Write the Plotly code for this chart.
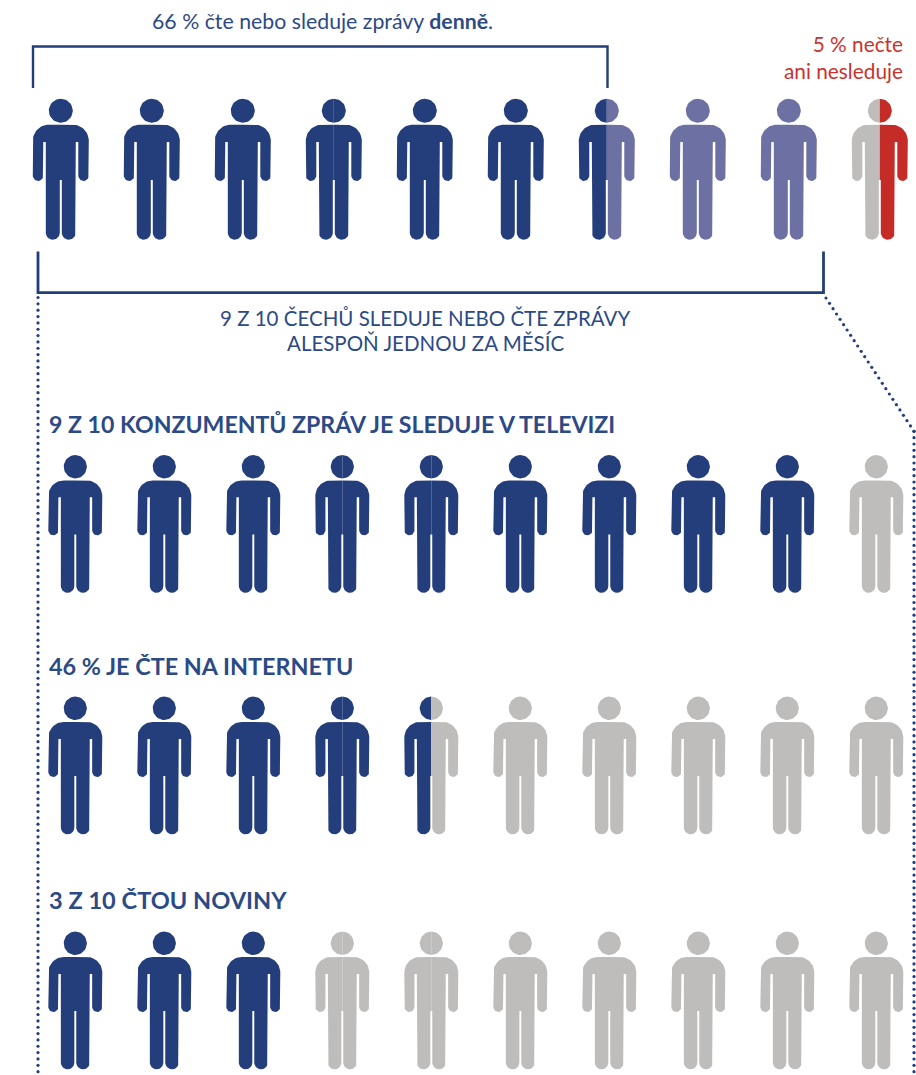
import numpy as np
import plotly.graph_objects as go

# ---------- data (people out of ten) ----------
PEOPLE = 10
DAILY = 6.5
MONTHLY = 9
NOT_AT_ALL = 0.5
TV = 9
INTERNET = 4.5
NEWSPAPERS = 3

TITLE_DAILY = "66 % čte nebo sleduje zprávy <b>denně</b>."
TITLE_NONE = "5 % nečte<br>ani nesleduje"
TITLE_MONTHLY = ["9 Z 10 ČECHŮ SLEDUJE NEBO ČTE ZPRÁVY", "ALESPOŇ JEDNOU ZA MĚSÍC"]
HEAD_TV = "9 Z 10 KONZUMENTŮ ZPRÁV JE SLEDUJE V TELEVIZI"
HEAD_NET = "46 % JE ČTE NA INTERNETU"
HEAD_PAPER = "3 Z 10 ČTOU NOVINY"

# ---------- style ----------
DARK = "#233E7A"
MID = "#6C70A2"
GREY = "#BEBDBB"
RED = "#C52B27"
TEXT_BLUE = "#2C4A85"
TEXT_RED = "#C9332E"
FONT = "Lato"


def arc(cx, cy, r, a0, a1, n=16):
    t = np.radians(np.linspace(a0, a1, n))
    return list(zip(cx + r * np.cos(t), cy + r * np.sin(t)))


def right_body():
    p = [(0, 26), (12, 26)]
    p += arc(12, 42, 16, -90, 0)
    p += [(28, 77)]
    p += arc(22.75, 77, 5.25, 0, 180)
    p += [(17.5, 43.3), (15, 43.3), (15, 134)]
    p += arc(8, 134, 7, 0, 180)
    p += [(1, 81.3), (0, 81.3)]
    return p


BODY_R = right_body()
HEAD_R = arc(0, 12, 12, -90, 90, 24)


def polys(side):
    if side == "R":
        return [BODY_R, HEAD_R]
    if side == "L":
        return [[(-x, y) for x, y in BODY_R], [(-x, y) for x, y in HEAD_R]]
    return [BODY_R + [(-x, y) for x, y in BODY_R[::-1]],
            HEAD_R + [(-x, y) for x, y in HEAD_R[::-1]]]


def place(side, cx, top, sx, sy):
    xs, ys = [], []
    for poly in polys(side):
        xs += [cx + sx * x for x, _ in poly] + [None]
        ys += [top + sy * y for _, y in poly] + [None]
    return xs, ys


fig = go.Figure()


def add_fill(xs, ys, color):
    fig.add_trace(go.Scatter(x=xs, y=ys, mode="lines", fill="toself", fillcolor=color,
                             line=dict(width=0, color=color), hoverinfo="skip", showlegend=False))


def draw_row(bands, x0, dx, top, sx, sy, seams):
    """bands: [(upper limit in people, colour), ...]"""
    groups = {}
    for i in range(PEOPLE):
        cx = x0 + dx * i

        def col(pos):
            for lim, c in bands:
                if pos < lim:
                    return c
            return bands[-1][1]
        left, right = col(i + .25), col(i + .75)
        if left == right and i not in seams:
            xs, ys = place("W", cx, top, sx, sy)
            g = groups.setdefault(left, ([], []))
            g[0].extend(xs)
            g[1].extend(ys)
        else:
            add_fill(*place("L", cx, top, sx, sy), left)
            add_fill(*place("R", cx, top, sx, sy), right)
    for c, (xs, ys) in groups.items():
        add_fill(xs, ys, c)


draw_row([(DAILY, DARK), (MONTHLY, MID), (PEOPLE - NOT_AT_ALL, GREY), (PEOPLE, RED)],
         60.8, 91.0, 98.7, 1.0, 1.0, {3})
LOW = dict(x0=75.3, dx=89.0, sx=0.964, sy=0.977, seams={3, 4})
draw_row([(TV, DARK), (PEOPLE, GREY)], top=455.0, **LOW)
draw_row([(INTERNET, DARK), (PEOPLE, GREY)], top=696.6, **LOW)
draw_row([(NEWSPAPERS, DARK), (PEOPLE, GREY)], top=931.6, **LOW)


def line(xs, ys, w=2.4):
    fig.add_trace(go.Scatter(x=xs, y=ys, mode="lines", line=dict(color=DARK, width=w),
                             hoverinfo="skip", showlegend=False))


line([33, 33, 607.5, 607.5], [88, 46.5, 46.5, 88], 2.4)
line([38, 38, 823.5, 823.5], [251.5, 292.7, 292.7, 251.5], 2.8)


def dots(x0, y0, x1, y1, step=6.35):
    n = int(round(np.hypot(x1 - x0, y1 - y0) / step)) + 1
    fig.add_trace(go.Scatter(x=np.linspace(x0, x1, n), y=np.linspace(y0, y1, n), mode="markers",
                             marker=dict(color=DARK, size=3.2, line=dict(width=0)),
                             hoverinfo="skip", showlegend=False))


dots(38, 297.5, 38, 1078)
dots(826, 298, 914, 431.3)
dots(914, 431.3, 914, 1078)


def text(x, y, s, size, color=TEXT_BLUE, anchor="center", family=FONT):
    fig.add_annotation(x=x, y=y, text=s, showarrow=False, xanchor=anchor, yanchor="middle",
                       align={"center": "center", "left": "left", "right": "right"}[anchor],
                       font=dict(family=family, size=size, color=color))


text(322, 21, TITLE_DAILY, 21.3)
text(905, 57, TITLE_NONE, 20.8, TEXT_RED, "right")
text(425, 318, TITLE_MONTHLY[0], 20.5)
text(425, 343, TITLE_MONTHLY[1], 20.5)
text(46.5, 424, f"<b>{HEAD_TV}</b>", 23.1, anchor="left")
text(46.5, 666, f"<b>{HEAD_NET}</b>", 23.4, anchor="left")
text(46.5, 900, f"<b>{HEAD_PAPER}</b>", 23.6, anchor="left")

fig.update_layout(width=916, height=1075, margin=dict(l=0, r=0, t=0, b=0), autosize=False,
                  paper_bgcolor="white", plot_bgcolor="white", showlegend=False,
                  xaxis=dict(range=[0, 916], visible=False, fixedrange=True),
                  yaxis=dict(range=[1075, 0], visible=False, fixedrange=True))
fig.write_html("out.html", config=dict(displayModeBar=False),
               post_script="document.body.style.margin='0';document.body.style.overflow='hidden';")
